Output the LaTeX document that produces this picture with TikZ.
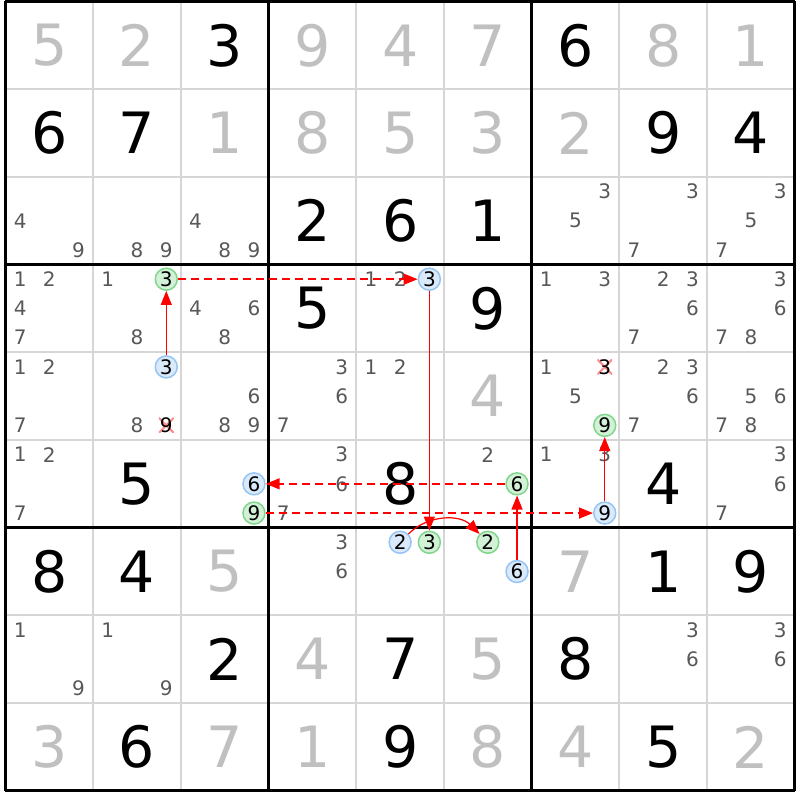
\documentclass[tikz,border=0pt]{standalone}
\usepackage{fontspec}
\setmainfont{DejaVu Sans}
\definecolor{solvedgray}{RGB}{192, 192, 192}
\definecolor{candgray}{RGB}{88, 88, 88}
\definecolor{gridgray}{RGB}{214, 214, 214}
\definecolor{chainblue}{RGB}{150, 196, 244}
\definecolor{chaingreen}{RGB}{128, 214, 140}
\definecolor{linkred}{RGB}{255, 0, 0}
\usetikzlibrary{arrows.meta}

\begin{document}
\begin{tikzpicture}[x=29.25pt, y=-29.25pt,
  given/.style={font=\fontsize{57}{57}\selectfont, text=black, inner sep=0pt},
  solved/.style={given, text=solvedgray},
  cand/.style={font=\fontsize{20}{20}\selectfont, text=candgray, inner sep=0pt},
  onstate/.style={cand, text=black, circle, draw=#1, fill=#1!35, line width=1.5pt, minimum size=22pt},
  crossed/.style={cand, text=black, minimum size=15pt, path picture={
      \draw[red!45, line width=2pt] (path picture bounding box.south west) -- (path picture bounding box.north east)
        (path picture bounding box.north west) -- (path picture bounding box.south east);}},
  link/.style={-{Triangle[length=14pt, width=11pt]}, linkred, line width=1.2pt},
  weak/.style={link, line width=1.5pt, dash pattern=on 8pt off 5pt},
]
  \fill[white] (-5.5pt, 1pt) rectangle (794.5pt, -799pt);

  % Grid
  \foreach \i in {1,2,4,5,7,8} {
    \draw[gridgray, line width=2pt] (3*\i, 0) -- (3*\i, 27);
    \draw[gridgray, line width=2pt] (0, 3*\i) -- (27, 3*\i);
  }
  \foreach \i in {0,9,18,27} {
    \draw[black, line width=3pt] (\i, 0) -- (\i, 27);
    \draw[black, line width=3pt] (0, \i) -- (27, \i);
  }

  % Givens
  \foreach \r/\c/\d in {1/3/3, 1/7/6, 2/1/6, 2/2/7, 2/8/9, 2/9/4, 3/4/2, 3/5/6, 3/6/1, 4/4/5, 4/6/9,
      6/2/5, 6/5/8, 6/8/4, 7/1/8, 7/2/4, 7/8/1, 7/9/9, 8/3/2, 8/5/7, 8/7/8, 9/2/6, 9/5/9, 9/8/5}
    \node[given] (g\r\c) at ({3*\c-1.5}, {3*\r-1.5}) {\d};

  % Solved cells
  \foreach \r/\c/\d in {1/1/5, 1/2/2, 1/4/9, 1/5/4, 1/6/7, 1/8/8, 1/9/1, 2/3/1, 2/4/8, 2/5/5, 2/6/3, 2/7/2,
      5/6/4, 7/3/5, 7/7/7, 8/4/4, 8/6/5, 9/1/3, 9/3/7, 9/4/1, 9/6/8, 9/7/4, 9/9/2}
    \node[solved] (g\r\c) at ({3*\c-1.5}, {3*\r-1.5}) {\d};

  % Candidates
  \foreach \r/\c/\ds in {3/1/{4,9}, 3/2/{8,9}, 3/3/{4,8,9}, 3/7/{3,5}, 3/8/{3,7}, 3/9/{3,5,7},
      4/1/{1,2,4,7}, 4/2/{1,8}, 4/3/{4,6,8}, 4/5/{1,2}, 4/7/{1,3}, 4/8/{2,3,6,7}, 4/9/{3,6,7,8},
      5/1/{1,2,7}, 5/2/{8}, 5/3/{6,8,9}, 5/4/{3,6,7}, 5/5/{1,2}, 5/7/{1,5}, 5/8/{2,3,6,7}, 5/9/{5,6,7,8},
      6/1/{1,2,7}, 6/4/{3,6,7}, 6/6/{2}, 6/7/{1,3}, 6/9/{3,6,7},
      7/4/{3,6}, 8/1/{1,9}, 8/2/{1,9}, 8/8/{3,6}, 8/9/{3,6}}
    \foreach \d in \ds
      \node[cand] (k\r\c\d) at ({3*\c-2.5+mod(\d-1,3)}, {3*\r-2.5+div(\d-1,3)}) {\d};

  % Chain candidates
  \foreach \r/\c/\d/\s in {4/2/3/chaingreen, 5/2/3/chainblue, 4/5/3/chainblue, 7/5/2/chainblue,
      7/5/3/chaingreen, 7/6/2/chaingreen, 7/6/6/chainblue, 6/6/6/chaingreen, 6/3/6/chainblue,
      6/3/9/chaingreen, 6/7/9/chainblue, 5/7/9/chaingreen}
    \node[onstate=\s] (k\r\c\d) at ({3*\c-2.5+mod(\d-1,3)}, {3*\r-2.5+div(\d-1,3)}) {\d};

  % Eliminations
  \node[crossed] (k529) at (5.5, 14.5) {9};
  \node[crossed] (k573) at (20.5, 12.5) {3};

  % Links
  \draw[link] (k523) -- (k423);
  \draw[weak] (k423) -- (k453);
  \draw[link] (k453) -- (k753);
  \draw[link] (k752) to[bend left=45] (k762);
  \draw[link] (k766) -- (k666);
  \draw[weak] (k666) -- (k636);
  \draw[weak] (k639) -- (k679);
  \draw[link] (k679) -- (k579);
\end{tikzpicture}
\end{document}
